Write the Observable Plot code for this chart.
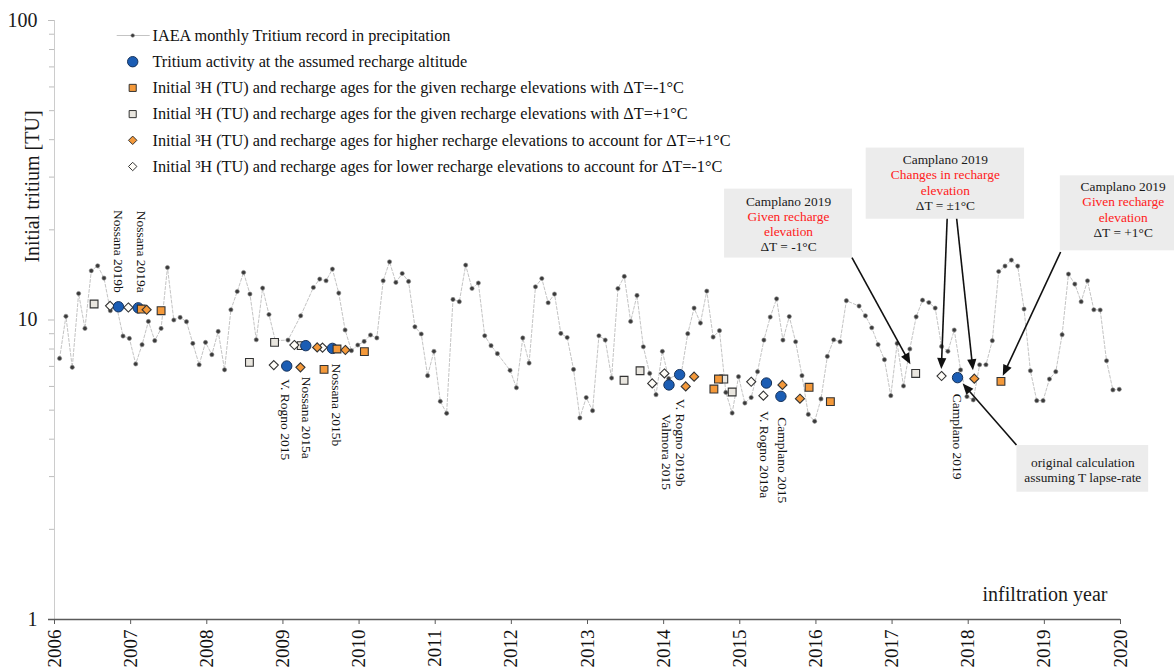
<!DOCTYPE html>
<html>
<head>
<meta charset="utf-8">
<script src="https://cdn.jsdelivr.net/npm/d3@7"></script>
<script src="https://cdn.jsdelivr.net/npm/@observablehq/plot@0.6"></script>
<style>
  html, body { margin: 0; padding: 0; background: #fff; }
  #chart { width: 1174px; height: 671px; }
</style>
</head>
<body>
<div id="chart"></div>
<script>
const FONT = '"Liberation Serif", "Times New Roman", Times, serif';

// IAEA monthly tritium in precipitation (TU), January..December; null = no sample
const iaea2006 = [7.44, 10.29, 6.95, 12.26, 9.37, 14.60, 15.17, 13.80, 10.74, 11.07, 8.84, 8.68];
const iaea2007 = [7.13, 8.27, 9.89, 8.53, 9.37, 14.97, 10.00, 10.20, 9.87, 8.35, 7.09, 8.42];
const iaea2008 = [7.66, 9.16, 6.82, 10.82, 12.45, 14.41, 12.21, 8.59, 12.78, 10.43, 8.53, null];
const iaea2009 = [8.57, null, 10.33, null, 12.84, 13.70, 13.52, 14.79, 12.30, 9.26, 7.90, 8.25];
const iaea2010 = [8.48, 8.91, 8.71, 13.52, 15.64, 13.35, 14.30, 13.45, 9.49, 8.98, 6.52, 7.86];
const iaea2011 = [5.35, 4.88, 11.71, 11.51, 15.25, 12.74, 13.29, 8.86, 8.21, 7.72, null, 6.79];
const iaea2012 = [5.94, 8.71, 7.18, 12.91, 13.76, 11.42, 12.21, 9.02, 8.74, 6.84, 4.71, 5.51];
const iaea2013 = [4.98, 8.86, 8.57, 6.40, 12.74, 13.98, 9.89, 12.08, 8.14, 6.63, 5.63, 7.86];
const iaea2014 = [6.37, null, 6.66, 9.00, 10.96, 9.77, 12.49, 8.77, 9.21, 5.73, 4.89, 6.47];
const iaea2015 = [5.28, 5.51, 6.72, 8.57, 10.23, 11.77, 8.57, 10.27, 8.46, 6.52, 4.84, 4.59];
const iaea2016 = [5.45, 7.56, 8.59, 8.46, 11.60, null, 11.13, 10.33, 9.42, 8.28, 7.37, 5.59];
const iaea2017 = [8.35, 6.02, 8.00, 10.25, 11.65, 11.44, 10.96, 8.16, 7.86, 9.26, 6.81, 5.55];
const iaea2018 = [5.41, 7.09, 7.09, 8.53, 14.52, 15.14, 15.85, 15.14, 10.88, 6.77, 5.38, 5.38];
const iaea2019 = [6.35, 6.72, 8.93, 14.23, 13.18, 11.51, 13.52, 10.82, 10.80, 7.31, 5.84, 5.87];
const iaeaStartYear = 2006;
const iaeaByYear = [iaea2006, iaea2007, iaea2008, iaea2009, iaea2010, iaea2011, iaea2012,
                    iaea2013, iaea2014, iaea2015, iaea2016, iaea2017, iaea2018, iaea2019];

// Tritium activity at the assumed recharge altitude (one per spring / campaign)
const siteNames = ["Nossana 2019b", "Nossana 2019a", "V. Rogno 2015", "Nossana 2015a", "Nossana 2015b",
                   "Valmora 2015", "V. Rogno 2019b", "V. Rogno 2019a", "Camplano 2015", "Camplano 2019"];
const siteYears = [2006.84, 2007.10, 2009.05, 2009.30, 2009.65, 2014.07, 2014.21, 2015.35, 2015.54, 2017.86];
const siteTU    = [11.07, 10.98, 7.02, 8.21, 8.04, 6.07, 6.57, 6.16, 5.56, 6.42];

// Given recharge elevations, ΔT = -1 °C
const minusGivenYears = [2007.14, 2007.40, 2009.54, 2009.71, 2010.07, 2014.66, 2014.72, 2015.91, 2016.19, 2018.43];
const minusGivenTU    = [10.88, 10.74, 6.84, 8.00, 7.84, 5.88, 6.35, 5.96, 5.34, 6.24];

// Given recharge elevations, ΔT = +1 °C
const plusGivenYears = [2006.52, 2008.56, 2008.89, 2009.24, 2013.48, 2013.69, 2014.79, 2014.90, 2017.31];
const plusGivenTU    = [11.31, 7.22, 8.42, 8.21, 6.29, 6.77, 6.35, 5.75, 6.63];

// Higher recharge elevations to account for ΔT = +1 °C
const higherYears = [2007.21, 2009.23, 2009.45, 2009.82, 2014.29, 2014.40, 2015.56, 2015.79, 2018.08];
const higherTU    = [10.82, 6.95, 8.10, 7.94, 6.00, 6.47, 6.07, 5.46, 6.37];

// Lower recharge elevations to account for ΔT = -1 °C
const lowerYears = [2006.73, 2006.97, 2008.88, 2009.15, 2009.52, 2013.85, 2014.01, 2015.15, 2015.31, 2017.65];
const lowerTU    = [11.15, 11.01, 7.07, 8.25, 8.09, 6.14, 6.63, 6.22, 5.59, 6.50];

const yearTicks = d3.range(2006, 2021);
const yMajorTicks = [1, 10, 100];
const yMinorTicks = [2, 3, 4, 5, 6, 7, 8, 9, 20, 30, 40, 50, 60, 70, 80, 90];

// ---- tables for the marks ----
const zip = (xs, ys) => xs.map((x, i) => ({year: x, tu: ys[i]}));
const iaea = iaeaByYear.flatMap((vals, k) =>
  vals.map((tu, m) => ({year: iaeaStartYear + k + (m + 0.8) / 12, tu})))
  .filter(d => d.tu != null);                 // gaps are simply bridged by the line
const sites = siteNames.map((name, i) => ({name, year: siteYears[i], tu: siteTU[i]}));
const minusGiven = zip(minusGivenYears, minusGivenTU);
const plusGiven = zip(plusGivenYears, plusGivenTU);
const higher = zip(higherYears, higherTU);
const lower = zip(lowerYears, lowerTU);

// where each site name sits relative to its circle (rotated text, screen px)
const labelPlacement = {
  "Nossana 2019b":  {above: true,  dx: 0,    dy: -14},
  "Nossana 2019a":  {above: true,  dx: 3.5,  dy: -15},
  "V. Rogno 2015":  {above: false, dx: -1,   dy: 13},
  "Nossana 2015a":  {above: false, dx: 1,    dy: 31},
  "Nossana 2015b":  {above: false, dx: 3.5,  dy: 15},
  "Valmora 2015":   {above: false, dx: -2.5, dy: 29},
  "V. Rogno 2019b": {above: false, dx: 1,    dy: 24},
  "V. Rogno 2019a": {above: false, dx: -2.5, dy: 28},
  "Camplano 2015":  {above: false, dx: 1,    dy: 21},
  "Camplano 2019":  {above: false, dx: 0,    dy: 16}
};

// callout boxes (data coordinates) and their text lines
const RED = "#ff2020", INK = "#1a1a1a";
const callouts = [
  {x1: 2014.80, x2: 2016.48, y1: 16.10, y2: 27.35, shift: 0.5,
   lines: [["Camplano 2019", INK], ["Given recharge", RED], ["elevation", RED], ["ΔT = -1°C", INK]]},
  {x1: 2016.66, x2: 2018.74, y1: 21.7, y2: 37.5, shift: -1,
   lines: [["Camplano 2019", INK], ["Changes in recharge", RED], ["elevation", RED], ["ΔT = ±1°C", INK]]},
  {x1: 2019.21, x2: 2020.86, y1: 17.02, y2: 30.3, shift: -3.7,
   lines: [["Camplano 2019", INK], ["Given recharge", RED], ["elevation", RED], ["ΔT = +1°C", INK]]},
  {x1: 2018.64, x2: 2020.37, y1: 2.66, y2: 3.81, shift: 1,
   lines: [["original calculation", INK], ["assuming T lapse-rate", INK]]}
];
const LINE_STEP = 15.2;
const calloutLines = callouts.flatMap(c => c.lines.map(([text, color], i) => ({
  text, color,
  x: (c.x1 + c.x2) / 2,
  y: Math.sqrt(c.y1 * c.y2),
  dy: (i - (c.lines.length - 1) / 2) * LINE_STEP + c.shift
})));

// arrows from callouts to the points they describe
const camplanoSite = sites.find(d => d.name === "Camplano 2019");
const arrows = [
  {from: [2016.48, 16.10], to: plusGiven[8], inset: 10},
  {from: [2017.73, 21.7], to: lower[9], inset: 6.5},
  {from: [2017.855, 21.7], to: higher[8], inset: 8},
  {from: [2019.22, 16.8], to: minusGiven[9], inset: 5.5},
  {from: [2018.64, 3.81], to: camplanoSite, inset: 8.5}
];

const ORANGE = "#f4993a", BLUE = "#1b5db4", PALE = "#e9e6df", EDGE = "#333";
const SQ_R = 4.4, DIA_R = 4.1, CIRC_R = 5.2;

const marks = [
  // callout boxes beneath everything
  Plot.rect(callouts, {x1: "x1", x2: "x2", y1: "y1", y2: "y2", fill: "#ececec"}),

  // axes
  Plot.ruleX([2006], {stroke: "#cccccc", strokeWidth: 1}),
  Plot.axisY({ticks: yMinorTicks, tickSize: 5, tickFormat: () => "", stroke: "#bdbdbd", label: null}),
  Plot.axisY({ticks: yMajorTicks, tickSize: 6, tickPadding: 11, tickFormat: d => String(d),
              fontSize: 20, fontFamily: FONT, stroke: "#bdbdbd", fill: "#1a1a1a", label: null}),
  Plot.ruleY([1], {stroke: "#5a5a5a", strokeWidth: 1.3, insetLeft: -6}),
  Plot.axisX({ticks: yearTicks, tickSize: 5, tickPadding: 5, tickRotate: -90, tickFormat: d => String(d),
              fontSize: 19, fontFamily: FONT, stroke: "#5a5a5a", fill: "#111", label: null}),

  // axis titles
  Plot.text(["Initial tritium [TU]"], {frameAnchor: "top-left", dx: -30, dy: 166, rotate: -90,
    textAnchor: "middle", fontSize: 20, fontFamily: FONT, fill: "#1a1a1a"}),
  Plot.text(["infiltration year"], {frameAnchor: "bottom-right", dx: -13, dy: -18.5,
    textAnchor: "end", fontSize: 20, fontFamily: FONT, fill: "#1a1a1a"}),

  // IAEA monthly record
  Plot.line(iaea, {x: "year", y: "tu", stroke: "#c4c4c4", strokeWidth: 1, strokeDasharray: "3,2"}),
  Plot.dot(iaea, {x: "year", y: "tu", r: 2.1, fill: "#3a3a3a", stroke: "#8a8a8a", strokeWidth: 0.6}),

  // recharge-age estimates
  Plot.dot(plusGiven, {x: "year", y: "tu", symbol: "square", r: SQ_R, fill: PALE, stroke: EDGE, strokeWidth: 1.1}),
  Plot.dot(lower, {x: "year", y: "tu", symbol: "diamond2", r: DIA_R, fill: "#fffdf8", stroke: EDGE, strokeWidth: 1.1}),
  Plot.dot(sites, {x: "year", y: "tu", r: CIRC_R, fill: BLUE, stroke: "#16325a", strokeWidth: 1}),
  Plot.dot(minusGiven, {x: "year", y: "tu", symbol: "square", r: SQ_R, fill: ORANGE, stroke: EDGE, strokeWidth: 1.1}),
  Plot.dot(higher, {x: "year", y: "tu", symbol: "diamond2", r: DIA_R, fill: ORANGE, stroke: EDGE, strokeWidth: 1.1}),

  // site names
  ...sites.map(d => {
    const p = labelPlacement[d.name];
    return Plot.text([d], {x: "year", y: "tu", text: "name", rotate: 90,
      textAnchor: p.above ? "end" : "start", lineAnchor: "middle", dx: p.dx, dy: p.dy,
      fontSize: 13.5, fontFamily: FONT, fill: "#111"});
  }),

  // callout text
  ...calloutLines.map(l => Plot.text([l], {x: "x", y: "y", text: "text", dy: l.dy,
    textAnchor: "middle", lineAnchor: "middle", fontSize: 13.4, fontFamily: FONT, fill: l.color}))
];

const chart = Plot.plot({
  width: 1174,
  height: 671,
  marginLeft: 54,
  marginRight: 54,
  marginTop: 20,
  marginBottom: 52,
  style: {fontFamily: FONT, background: "#fff", overflow: "visible"},
  x: {domain: [2006, 2020]},
  y: {type: "log", domain: [1, 100]},
  marks
});
document.getElementById("chart").append(chart);

// ---- arrows (filled heads) placed through the chart's own scales ----
const svg = d3.select(chart);
const scaleFn = name => {
  const s = chart.scale(name);
  if (typeof s.apply === "function") return v => s.apply(v);
  const f = (s.type === "log" ? d3.scaleLog() : d3.scaleLinear()).domain(s.domain).range(s.range);
  return v => f(v);
};
const X = scaleFn("x"), Y = scaleFn("y");
const HEAD = 11, HALF = 4.6;
const ga = svg.append("g").attr("fill", "#111").attr("stroke", "#111");
for (const a of arrows) {
  const x0 = X(a.from[0]), y0 = Y(a.from[1]);
  const xt = X(a.to.year), yt = Y(a.to.tu);
  const dx = xt - x0, dy = yt - y0, L = Math.hypot(dx, dy);
  const ux = dx / L, uy = dy / L;
  const tx = xt - ux * a.inset, ty = yt - uy * a.inset;
  const bx = tx - ux * HEAD, by = ty - uy * HEAD;
  ga.append("line").attr("x1", x0).attr("y1", y0).attr("x2", bx + ux).attr("y2", by + uy)
    .attr("stroke-width", 1.6);
  ga.append("path").attr("stroke", "none")
    .attr("d", `M${tx},${ty}L${bx - uy * HALF},${by + ux * HALF}L${bx + uy * HALF},${by - ux * HALF}Z`);
}

// ---- legend ----
const legendItems = [
  {kind: "series", text: "IAEA monthly Tritium record in precipitation"},
  {kind: "circle", fill: BLUE, stroke: "#16325a", r: CIRC_R, text: "Tritium activity at the assumed recharge altitude"},
  {kind: "square", fill: ORANGE, r: 4, text: "Initial ³H (TU) and recharge ages for the given recharge elevations with ΔT=-1°C"},
  {kind: "square", fill: PALE, r: 4, text: "Initial ³H (TU) and recharge ages for the given recharge elevations with ΔT=+1°C"},
  {kind: "diamond", fill: ORANGE, r: 3.8, text: "Initial ³H (TU) and recharge ages for higher recharge elevations to account for ΔT=+1°C"},
  {kind: "diamond", fill: "#fffdf8", r: 3.8, text: "Initial ³H (TU) and recharge ages for lower recharge elevations to account for ΔT=-1°C"}
];
const LEG_X = 132.7, LEG_TEXT_X = 152.5, LEG_Y0 = 35.5, LEG_STEP = 26.2;
const gl = svg.append("g").attr("font-family", FONT).attr("font-size", 16.3)
  .attr("fill", "#111").attr("text-anchor", "start");
legendItems.forEach((it, k) => {
  const y = LEG_Y0 + k * LEG_STEP;
  if (it.kind === "series") {
    gl.append("line").attr("x1", LEG_X - 16).attr("x2", LEG_X + 17).attr("y1", y).attr("y2", y)
      .attr("stroke", "#c4c4c4").attr("stroke-width", 1);
    gl.append("circle").attr("cx", LEG_X).attr("cy", y).attr("r", 1.8)
      .attr("fill", "#3a3a3a").attr("stroke", "#8a8a8a").attr("stroke-width", 0.6);
  } else {
    const type = it.kind === "circle" ? d3.symbolCircle : it.kind === "square" ? d3.symbolSquare : d3.symbolDiamond2;
    gl.append("path").attr("transform", `translate(${LEG_X},${y})`)
      .attr("d", d3.symbol(type, Math.PI * it.r * it.r)())
      .attr("fill", it.fill).attr("stroke", it.stroke || EDGE).attr("stroke-width", 1);
  }
  gl.append("text").attr("x", LEG_TEXT_X).attr("y", y).attr("dy", "0.33em")
    .attr("text-anchor", "start").text(it.text);
});
</script>
</body>
</html>
